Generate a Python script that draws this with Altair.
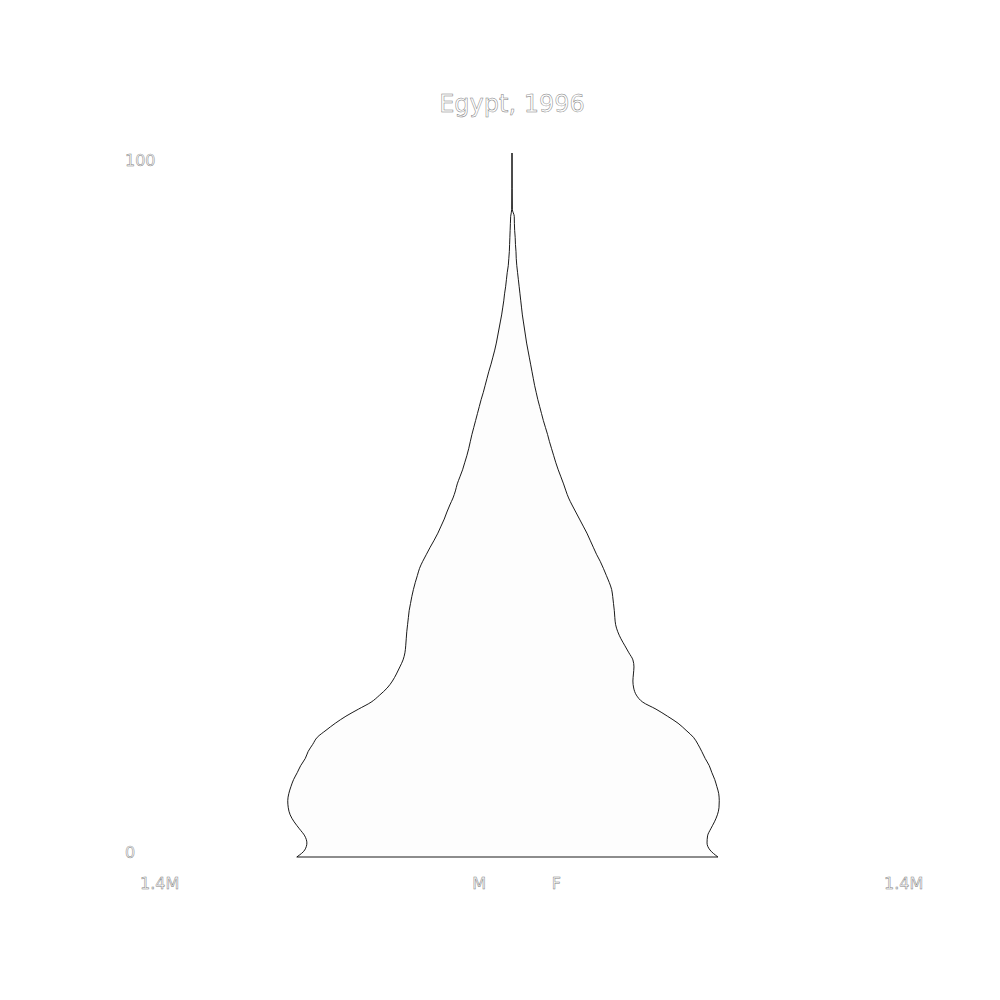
import altair as alt
import pandas as pd

# Egypt, 1996 population by single year of age (millions)
ages = list(range(0, 93)) + [95, 100]
male = [0.81, 0.78, 0.772, 0.78, 0.80, 0.82, 0.835, 0.842, 0.844, 0.84,
        0.832, 0.822, 0.808, 0.795, 0.778, 0.767, 0.75, 0.733, 0.70, 0.665,
        0.625, 0.578, 0.53, 0.498, 0.47, 0.45, 0.435, 0.422, 0.41, 0.403,
        0.40, 0.398, 0.396, 0.393, 0.39, 0.387, 0.382, 0.377, 0.371, 0.364,
        0.356, 0.348, 0.336, 0.322, 0.308, 0.293, 0.279, 0.267, 0.255, 0.245,
        0.234, 0.222, 0.213, 0.206, 0.196, 0.186, 0.178, 0.17, 0.163, 0.157,
        0.151, 0.144, 0.137, 0.13, 0.123, 0.116, 0.108, 0.101, 0.094, 0.087,
        0.079, 0.072, 0.065, 0.059, 0.054, 0.049, 0.044, 0.039, 0.035, 0.031,
        0.028, 0.024, 0.021, 0.018, 0.014, 0.012, 0.010, 0.009, 0.008, 0.007,
        0.006, 0.005, 0.001, 0.0004, 0.0]
female = [0.775, 0.745, 0.734, 0.736, 0.748, 0.762, 0.773, 0.779, 0.780, 0.778,
          0.771, 0.763, 0.752, 0.742, 0.727, 0.714, 0.70, 0.683, 0.655, 0.625,
          0.585, 0.542, 0.492, 0.468, 0.458, 0.455, 0.457, 0.459, 0.455, 0.44,
          0.425, 0.41, 0.398, 0.39, 0.387, 0.385, 0.382, 0.379, 0.375, 0.366,
          0.355, 0.344, 0.332, 0.318, 0.306, 0.294, 0.282, 0.268, 0.254, 0.24,
          0.226, 0.213, 0.203, 0.194, 0.184, 0.174, 0.165, 0.157, 0.149, 0.141,
          0.134, 0.126, 0.118, 0.111, 0.104, 0.097, 0.091, 0.085, 0.08, 0.075,
          0.07, 0.065, 0.06, 0.055, 0.051, 0.047, 0.043, 0.039, 0.036, 0.033,
          0.03, 0.027, 0.024, 0.021, 0.018, 0.016, 0.015, 0.013, 0.012, 0.010,
          0.009, 0.0085, 0.0012, 0.0005, 0.0]

x_label_values = [-1.4e6, -0.15e6, 0.15e6, 1.4e6]
x_label_texts = ["1.4M", "M", "F", "1.4M"]
title_text = "Egypt, 1996"

df = pd.DataFrame({
    "age": ages,
    "male": [-m * 1e6 for m in male],
    "female": [f * 1e6 for f in female],
})
xl = pd.DataFrame({"v": x_label_values, "t": x_label_texts})

FONT = "DejaVu Sans"
TXT = dict(font=FONT, fill="white", stroke="#808080", strokeWidth=0.5)

xscale = alt.Scale(domain=[-1.4e6, 1.4e6], nice=False, zero=False)
yscale = alt.Scale(domain=[0, 100], nice=False, zero=False)

area = alt.Chart(df).mark_area(
    interpolate="monotone", orient="horizontal",
    fill="#fdfdfd", stroke="black", strokeWidth=0.9
).encode(
    x=alt.X("male:Q", scale=xscale, axis=None),
    x2="female:Q",
    y=alt.Y("age:Q", scale=yscale, axis=None),
)

xlabels = alt.Chart(xl).mark_text(
    align="left", baseline="top", dy=19, fontSize=16, **TXT
).encode(
    x=alt.X("v:Q", scale=xscale, axis=None),
    y=alt.datum(0),
    text="t:N",
)

ylab_top = alt.Chart(pd.DataFrame({"a": [100], "t": ["100"]})).mark_text(
    align="left", baseline="top", dx=-15, fontSize=16, **TXT
).encode(
    x=alt.datum(-1.4e6),
    y=alt.Y("a:Q", scale=yscale, axis=None),
    text="t:N",
)

ylab_bot = alt.Chart(pd.DataFrame({"a": [0], "t": ["0"]})).mark_text(
    align="left", baseline="alphabetic", dx=-15, dy=1, fontSize=16, **TXT
).encode(
    x=alt.datum(-1.4e6),
    y=alt.Y("a:Q", scale=yscale, axis=None),
    text="t:N",
)

title = alt.Chart(pd.DataFrame({"t": [title_text]})).mark_text(
    align="center", baseline="alphabetic", dy=-41, fontSize=24, **TXT
).encode(
    x=alt.datum(0),
    y=alt.datum(100),
    text="t:N",
)

chart = alt.layer(area, xlabels, ylab_top, ylab_bot, title).properties(
    width=744,
    height=704,
    autosize=alt.AutoSizeParams(type="none"),
    padding={"left": 132, "top": 145, "right": 100, "bottom": 100},
    background="white",
).configure_view(strokeWidth=0).configure_axis(disable=True)

chart.save("out.html", embed_options={"renderer": "svg", "actions": False})
